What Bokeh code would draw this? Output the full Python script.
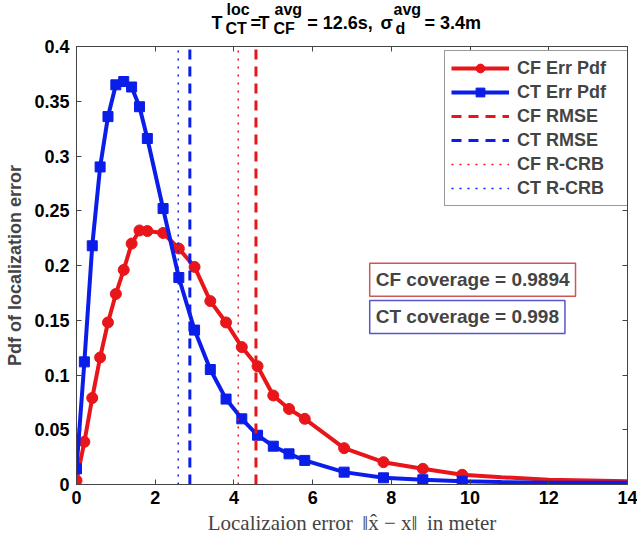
import math
from bokeh.plotting import figure
from bokeh.layouts import column
from bokeh.models import (Range1d, FixedTicker, LinearAxis, Label, NumeralTickFormatter,
                          CustomJSTickFormatter)
from bokeh.core.properties import value
from bokeh.embed import file_html
from bokeh.resources import INLINE

# ---- data ----
err_x = [0, 0.2, 0.4, 0.6, 0.8, 1.0, 1.2, 1.4, 1.6, 1.8, 2.2, 2.6, 3.0, 3.4,
         3.8, 4.2, 4.6, 5.0, 5.4, 5.8, 6.8, 7.8, 8.8, 9.8]
cf_pdf = [0.0037, 0.039, 0.079, 0.116, 0.148, 0.174, 0.196, 0.220, 0.232, 0.2315,
          0.2297, 0.2155, 0.1987, 0.1675, 0.148, 0.1255, 0.108, 0.0813, 0.069,
          0.060, 0.0332, 0.0204, 0.0143, 0.0089]
ct_pdf = [0.0143, 0.112, 0.218, 0.290, 0.336, 0.365, 0.368, 0.363, 0.345, 0.316,
          0.252, 0.189, 0.141, 0.105, 0.078, 0.060, 0.045, 0.035, 0.028, 0.022,
          0.0113, 0.0061, 0.0043, 0.003]
# smooth curve tail beyond the last marker
tail_x = [10.8, 12.0, 14.0]
cf_tail = [0.0067, 0.0043, 0.003]
ct_tail = [0.0022, 0.0017, 0.0015]

cf_rmse = 4.56
ct_rmse = 2.88
cf_rcrb = 4.11
ct_rcrb = 2.585

cf_cov = "CF coverage = 0.9894"
ct_cov = "CT coverage = 0.998"

x_ticks = [0, 2, 4, 6, 8, 10, 12, 14]
y_ticks = [0, 0.05, 0.1, 0.15, 0.2, 0.25, 0.3, 0.35, 0.4]

# title pieces: main-line text and super/subscript text
title_main = ["T", "=", "T", "= 12.6s,", "\u03c3", "= 3.4m"]
title_scripts = ["loc", "CT", "avg", "CF", "avg", "d"]

RED = "#e8161b"
BLUE = "#0b1de8"
AX = "#444444"
FONT = "Liberation Sans"

L, R = 76, 627          # frame edges in page pixels
TH = 38                 # height of the title strip
DY = 6                  # baseline correction of the text glyphs

# ---------- title strip (its frame is aligned with the main frame) ----------
t = figure(width=637, height=TH, output_backend="svg", toolbar_location=None,
           x_range=Range1d(L, R), y_range=Range1d(TH, 0),
           x_axis_location=None, y_axis_location=None,
           min_border_left=L, min_border_right=637 - R, min_border_top=0, min_border_bottom=0)
t.grid.visible = False
t.outline_line_color = None
t.text(x=[211, 250, 258, 306.7, 380, 424], y=[28 - DY] * 6, text=title_main,
       text_font=value(FONT), text_font_style="bold", text_font_size="18px",
       text_baseline="alphabetic", text_align="left", text_color="black")
t.text(x=[226, 225, 274, 273, 393, 395],
       y=[v - DY for v in [15, 33.5, 15, 33.5, 15, 33.5]], text=title_scripts,
       text_font=value(FONT), text_font_style="bold", text_font_size="16px",
       text_baseline="alphabetic", text_align="left", text_color="black")

# ---------- main plot ----------
p = figure(width=637, height=540 - TH, output_backend="svg", toolbar_location=None,
           x_range=Range1d(0, 14), y_range=Range1d(0, 0.4),
           min_border_left=L, min_border_right=637 - R, min_border_top=46 - TH, min_border_bottom=56)
p.grid.visible = False
p.outline_line_color = AX
p.background_fill_color = "white"

for ax in (p.xaxis[0], p.yaxis[0]):
    ax.axis_line_color = AX
    ax.major_tick_line_color = AX
    ax.major_tick_in = 5
    ax.major_tick_out = 0
    ax.minor_tick_line_color = None
    ax.major_label_text_font = FONT
    ax.major_label_text_font_style = "bold"
    ax.major_label_text_font_size = "18px"
    ax.major_label_text_color = "black"
p.xaxis[0].ticker = FixedTicker(ticks=x_ticks)
p.yaxis[0].ticker = FixedTicker(ticks=y_ticks)
p.yaxis[0].formatter = NumeralTickFormatter(format="0.[00]")
p.xaxis[0].major_label_standoff = 6
p.yaxis[0].major_label_standoff = 7

p.xaxis[0].axis_label = "Localizaion error \u2009\u2016x\u0302 \u2212 x\u2016\u2009 in meter"
p.xaxis[0].axis_label_text_font = "Liberation Serif"
p.xaxis[0].axis_label_text_font_style = "normal"
p.xaxis[0].axis_label_text_font_size = "21px"
p.xaxis[0].axis_label_standoff = 4
p.yaxis[0].axis_label = "Pdf of localization error"
p.yaxis[0].axis_label_text_font = FONT
p.yaxis[0].axis_label_text_font_style = "bold"
p.yaxis[0].axis_label_text_font_size = "18px"
p.yaxis[0].axis_label_standoff = 6

blank = CustomJSTickFormatter(code="return ''")
top = LinearAxis(ticker=FixedTicker(ticks=x_ticks), formatter=blank,
                 major_tick_in=5, major_tick_out=0, axis_line_color=AX,
                 major_tick_line_color=AX, minor_tick_line_color=None, major_label_standoff=0)
right = LinearAxis(ticker=FixedTicker(ticks=y_ticks), formatter=blank,
                   major_tick_in=5, major_tick_out=0, axis_line_color=AX,
                   major_tick_line_color=AX, minor_tick_line_color=None, major_label_standoff=0)
p.add_layout(top, "above")
p.add_layout(right, "right")

# curves
p.line(err_x + tail_x, cf_pdf + cf_tail, line_color=RED, line_width=4, legend_label="CF Err Pdf")
p.scatter(err_x, cf_pdf, marker="circle", size=11, fill_color=RED, line_color=RED, legend_label="CF Err Pdf")
p.line(err_x + tail_x, ct_pdf + ct_tail, line_color=BLUE, line_width=4, legend_label="CT Err Pdf")
p.scatter(err_x, ct_pdf, marker="square", size=10, fill_color=BLUE, line_color=BLUE, legend_label="CT Err Pdf")

# vertical lines
p.line([cf_rmse, cf_rmse], [0, 0.4], line_color=RED, line_width=3, line_dash="10 7", legend_label="CF RMSE")
p.line([ct_rmse, ct_rmse], [0, 0.4], line_color=BLUE, line_width=3, line_dash="10 7", legend_label="CT RMSE")
p.line([cf_rcrb, cf_rcrb], [0, 0.4], line_color=RED, line_width=1.5, line_dash="2 6", legend_label="CF R-CRB")
p.line([ct_rcrb, ct_rcrb], [0, 0.4], line_color=BLUE, line_width=1.5, line_dash="2 6", legend_label="CT R-CRB")

lg = p.legend[0]
lg.location = (368, 278)
lg.margin = 0
lg.padding = 6
lg.spacing = 2
lg.glyph_width = 58
lg.glyph_height = 22
lg.label_height = 22
lg.label_width = 105
lg.label_standoff = 8
lg.label_text_font = FONT
lg.label_text_font_style = "bold"
lg.label_text_font_size = "18px"
lg.border_line_color = "#333333"
lg.border_line_width = 1
lg.background_fill_alpha = 1.0

# coverage boxes
p.add_layout(Label(x=7.45, y=0.187, text=cf_cov, text_font=FONT, text_font_style="bold",
                   text_font_size="19px", text_baseline="middle", padding=6,
                   border_line_color="#d05555", border_line_width=1.5,
                   background_fill_color="white"))
p.add_layout(Label(x=7.45, y=0.153, text=ct_cov, text_font=FONT, text_font_style="bold",
                   text_font_size="19px", text_baseline="middle", padding=6,
                   border_line_color="#5555cc", border_line_width=1.5,
                   background_fill_color="white"))

layout = column(t, p, spacing=0)
open("out.html", "w").write(file_html(layout, INLINE))
